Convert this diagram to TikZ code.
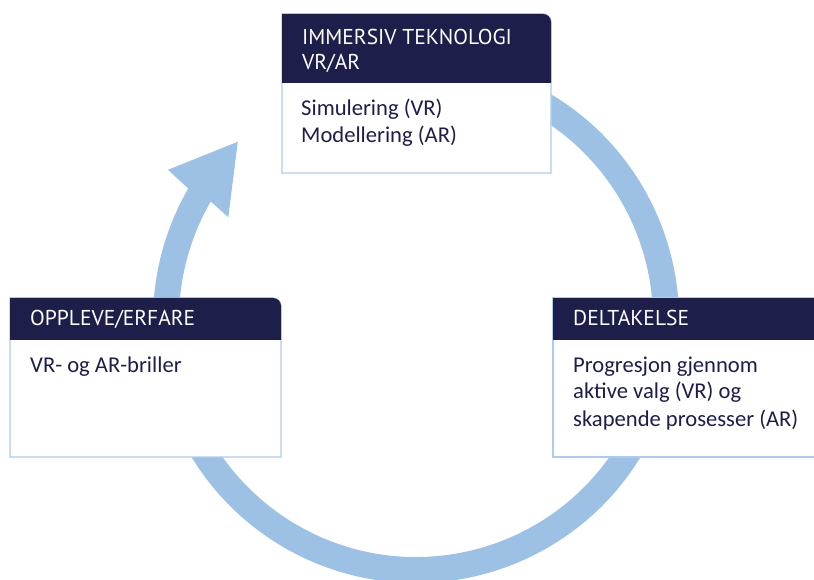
\documentclass[tikz,border=0pt]{standalone}
\usepackage{fontspec}
\setmainfont{Carlito}
\newfontfamily\hdrfont{PT Sans}
\definecolor{navy}{HTML}{1D1E4A}
\definecolor{ringblue}{HTML}{9DC0E5}
\definecolor{edgeblue}{HTML}{AECBEB}
\begin{document}
\begin{tikzpicture}[x=1pt,y=1pt,
  hdr/.style={anchor=base west,inner sep=0pt,text=white,font=\hdrfont\fontsize{21.5}{25}\selectfont},
  bodytxt/.style={anchor=base west,inner sep=0pt,text=navy,font=\fontsize{22.6}{27}\selectfont},
  frame/.style={draw=edgeblue,line width=1.2pt,fill=white}]
\useasboundingbox (0,0) rectangle (814,579);
\clip (0,0) rectangle (814,579);
% ring with arrowhead
\begin{scope}[shift={(416,259)}]
\fill[ringblue] (70:263) arc[start angle=70,end angle=-210,radius=263]
  -- (148.8:290) -- (135:252) -- (151.3:214) -- (150:237)
  arc[start angle=-210,end angle=70,radius=237] -- cycle;
\end{scope}
% top box
\draw[frame] (282,406) -- (282,565) -- (543,565) arc[start angle=90,end angle=0,radius=8] -- (551,406) -- cycle;
\fill[navy] (282,496) -- (282,565) -- (543,565) arc[start angle=90,end angle=0,radius=8] -- (551,496) -- cycle;
\node[hdr] (th1) at (302,534) {IMMERSIV TEKNOLOGI};
\node[hdr] (th2) at (302,509) {VR/AR};
\node[bodytxt] (tb1) at (301,463) {Simulering (VR)};
\node[bodytxt] (tb2) at (301,436) {Modellering (AR)};
% left box
\draw[frame] (10,122) -- (10,281) -- (273,281) arc[start angle=90,end angle=0,radius=8] -- (281,122) -- cycle;
\fill[navy] (10,239) -- (10,281) -- (273,281) arc[start angle=90,end angle=0,radius=8] -- (281,239) -- cycle;
\node[hdr] (lh1) at (30,253) {OPPLEVE/ERFARE};
\node[bodytxt] (lb1) at (30,207) {VR- og AR-briller};
% right box
\draw[frame] (553,122) -- (553,281) -- (830,281) -- (830,122) -- cycle;
\fill[navy] (553,239) -- (553,281) -- (830,281) -- (830,239) -- cycle;
\node[hdr] (rh1) at (573,253) {DELTAKELSE};
\node[bodytxt] (rb1) at (573,207) {Progresjon gjennom};
\node[bodytxt] (rb2) at (573,181) {aktive valg (VR) og};
\node[bodytxt] (rb3) at (573,153) {skapende prosesser (AR)};
\end{tikzpicture}
\end{document}
